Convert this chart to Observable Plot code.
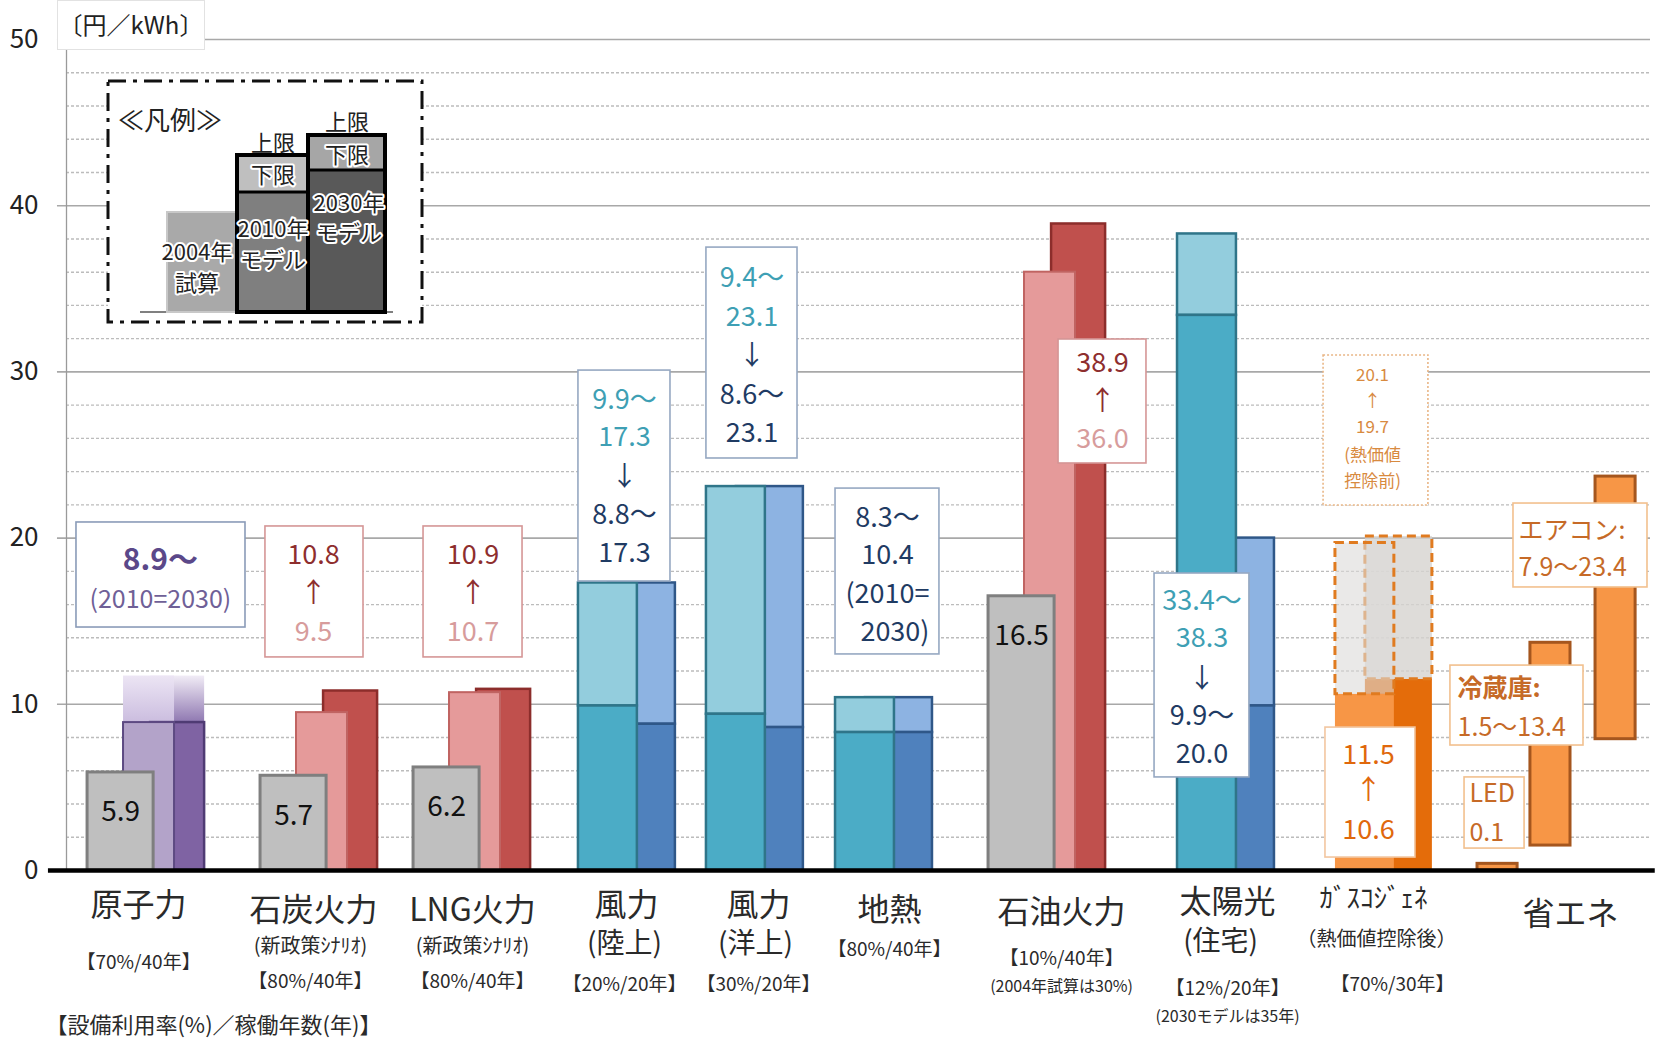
<!DOCTYPE html>
<html>
<head>
<meta charset="utf-8">
<script src="https://cdn.jsdelivr.net/npm/d3@7"></script>
<script src="https://cdn.jsdelivr.net/npm/@observablehq/plot@0.6"></script>
<style>
  body { margin: 0; background: #fff; }
  #wrap { position: relative; width: 1663px; height: 1038px; font-family: "Noto Sans CJK JP", "Noto Sans", sans-serif; overflow: hidden; }
  #unit { position: absolute; left: 57px; top: 0; width: 148px; height: 50px; box-sizing: border-box; white-space: nowrap;
          border: 1px solid #e2e2e2; background: #fff; font-size: 24px; line-height: 46px; text-align: center; color: #222; }
</style>
</head>
<body>
<div id="wrap">
  <svg width="0" height="0" style="position:absolute">
    <defs>
      <linearGradient id="fadeLight" x1="0" y1="0" x2="0" y2="1">
        <stop offset="0" stop-color="#ece5f4"/>
        <stop offset="1" stop-color="#cbbddf"/>
      </linearGradient>
      <linearGradient id="fadeDark" x1="0" y1="0" x2="0" y2="1">
        <stop offset="0" stop-color="#f1ecf6"/>
        <stop offset="1" stop-color="#8f78b1"/>
      </linearGradient>
    </defs>
  </svg>
</div>
<script>
// ---------- values (円/kWh) ----------
// thermal & nuclear: 2004 estimate, 2010 model, 2030 model
const fossilGroups = ["原子力", "石炭火力", "LNG火力", "石油火力"];
const cost2004 = [5.9, 5.7, 6.2, 16.5];
const cost2010 = [8.9, 9.5, 10.7, 36.0];
const cost2030 = [8.9, 10.8, 10.9, 38.9];

// renewables: lower / upper bound for the 2010 and 2030 models
const renewGroups = ["風力(陸上)", "風力(洋上)", "地熱", "太陽光(住宅)"];
const low2010 = [9.9, 9.4, 8.3, 33.4];
const high2010 = [17.3, 23.1, 10.4, 38.3];
const low2030 = [8.8, 8.6, 8.3, 9.9];
const high2030 = [17.3, 23.1, 10.4, 20.0];

// gas cogeneration: after / before heat-value deduction
const gasYears = ["2010", "2030"];
const gasAfterHeat = [10.6, 11.5];
const gasBeforeHeat = [19.7, 20.1];

// energy saving appliances: cost range
const saveItems = ["LED", "冷蔵庫", "エアコン"];
const saveLow = [0, 1.5, 7.9];
const saveHigh = [0.1, 13.4, 23.4];

const yTicks = [0, 10, 20, 30, 40, 50];

// category labels under the axis
const catNames = ["原子力", "石炭火力", "LNG火力", "風力", "風力", "地熱", "石油火力", "太陽光", "ｶﾞｽｺｼﾞｪﾈ", "省エネ"];
const catSubs  = ["", "(新政策ｼﾅﾘｵ)", "(新政策ｼﾅﾘｵ)", "(陸上)", "(洋上)", "", "", "(住宅)", "（熱価値控除後）", ""];
const catRates = ["【70%/40年】", "【80%/40年】", "【80%/40年】", "【20%/20年】", "【30%/20年】", "【80%/40年】", "【10%/40年】", "【12%/20年】", "【70%/30年】", ""];
const catNotes = ["", "", "", "", "", "", "(2004年試算は30%)", "(2030モデルは35年)", "", ""];
const rateCaption = "【設備利用率(%)／稼働年数(年)】";

// ---------- layout (x in chart units 0–100) ----------
const fossilAnchor = [1.33, 12.25, 21.91, 58.21];
const FOS = { g: [0, 4.17], a: [2.27, 5.49], b: [3.98, 7.39] };
const renewAnchor = [32.32, 40.40, 48.55, 70.14];
const REN = { a: [0, 3.72], b: [1.89, 6.12] };
const gasAnchor = 80.11;
const saveLeft = [89.08, 92.42, 96.53];
const SAVE_W = 2.53;
const OPEN_TOP = 2.8; // height of the faded "open-ended" cap on nuclear

const fmt = v => v.toFixed(1);

const teal = "#3e9fb4", navy = "#1f3b63";
const redDark = "#8e2e2e", redLight = "#d79c9c";
const purpleBold = "#5b4889", purpleReg = "#6f6097";
const orange = "#e0680c", orangeSoft = "#d88a3f", saveText = "#c66a27";

// ---------- rows ----------
const fossil = fossilGroups.map((name, i) => ({
  name, x0: fossilAnchor[i], v04: cost2004[i], v10: cost2010[i], v30: cost2030[i], nuc: i === 0
}));
const renew = renewGroups.map((name, i) => ({
  name, x0: renewAnchor[i], l10: low2010[i], h10: high2010[i], l30: low2030[i], h30: high2030[i]
}));
const gas = gasYears.map((year, i) => ({
  year, x1: gasAnchor + (i === 0 ? REN.a[0] : REN.b[0]), x2: gasAnchor + (i === 0 ? REN.a[1] : REN.b[1]),
  after: gasAfterHeat[i], before: gasBeforeHeat[i]
}));
const gas2010 = gas.filter(d => d.year === "2010");
const gas2030 = gas.filter(d => d.year === "2030");
const save = saveItems.map((name, i) => ({ name, x1: saveLeft[i], x2: saveLeft[i] + SAVE_W, lo: saveLow[i], hi: saveHigh[i] }));

// annotation boxes
const boxes = [
  { x1: 0.63, x2: 11.30, y1: 14.62, y2: 20.94, stroke: "#8a9bb8" },
  { x1: 12.56, x2: 18.75, y1: 12.82, y2: 20.70, stroke: "#d59696" },
  { x1: 22.54, x2: 28.79, y1: 12.82, y2: 20.70, stroke: "#d59696" },
  { x1: 32.32, x2: 38.13, y1: 17.39, y2: 30.08, stroke: "#96a8c2" },
  { x1: 40.40, x2: 46.15, y1: 24.79, y2: 37.48, stroke: "#96a8c2" },
  { x1: 48.55, x2: 55.11, y1: 13.00, y2: 22.98, stroke: "#96a8c2" },
  { x1: 62.63, x2: 68.18, y1: 24.49, y2: 31.95, stroke: "#d59696" },
  { x1: 68.69, x2: 74.68, y1: 5.60, y2: 17.87, stroke: "#96a8c2" },
  { x1: 79.48, x2: 85.16, y1: 0.78, y2: 8.60, stroke: "#f2c6a0" },
  { x1: 91.35, x2: 99.81, y1: 17.03, y2: 22.08, stroke: "#f2c08e" },
  { x1: 87.37, x2: 95.77, y1: 7.52, y2: 12.33, stroke: "#f2c08e" },
  { x1: 88.26, x2: 92.05, y1: 1.32, y2: 5.60, stroke: "#f2c08e" }
];
const dottedBox = [{ x1: 79.36, x2: 85.98, y1: 21.96, y2: 30.99 }];

const arrowBox = (x, ys, idx) => [
  { x, y: ys[0], text: fmt(cost2030[idx]), fill: redDark, size: 27 },
  { x, y: ys[1], text: "↑", fill: redDark, size: 27 },
  { x, y: ys[2], text: fmt(cost2010[idx]), fill: redLight, size: 27 }
];
const renewBox = (x, ys, idx) => [
  { x, y: ys[0], text: `${fmt(low2010[idx])}～`, fill: teal, size: 27 },
  { x, y: ys[1], text: fmt(high2010[idx]), fill: teal, size: 27 },
  { x, y: ys[2], text: "↓", fill: navy, size: 27 },
  { x, y: ys[3], text: `${fmt(low2030[idx])}～`, fill: navy, size: 27 },
  { x, y: ys[4], text: fmt(high2030[idx]), fill: navy, size: 27 }
];

const notes = [
  { x: 5.93, y: 16.25, text: "(2010=2030)", fill: purpleReg, size: 25 },
  ...arrowBox(15.6, [18.95, 16.67, 14.32], 1),
  ...arrowBox(25.66, [18.95, 16.67, 14.32], 2),
  ...arrowBox(65.40, [30.51, 28.22, 25.93], 3),
  ...renewBox(35.23, [28.28, 26.05, 23.65, 21.36, 19.07], 0),
  ...renewBox(43.28, [35.62, 33.27, 30.93, 28.58, 26.29], 1),
  ...renewBox(71.69, [16.19, 13.96, 11.49, 9.27, 6.98], 3),
  { x: 51.83, y: 21.18, text: `${fmt(low2010[2])}～`, fill: navy, size: 27 },
  { x: 51.83, y: 18.95, text: fmt(high2010[2]), fill: navy, size: 27 },
  { x: 51.83, y: 16.61, text: "(2010=", fill: navy, size: 27 },
  { x: 52.30, y: 14.32, text: "2030)", fill: navy, size: 27 },
  { x: 82.45, y: 29.78, text: fmt(gasBeforeHeat[1]), fill: orangeSoft, size: 17 },
  { x: 82.45, y: 28.22, text: "↑", fill: orangeSoft, size: 17 },
  { x: 82.45, y: 26.65, text: fmt(gasBeforeHeat[0]), fill: orangeSoft, size: 17 },
  { x: 82.45, y: 24.97, text: "(熱価値", fill: orangeSoft, size: 17 },
  { x: 82.45, y: 23.41, text: "控除前)", fill: orangeSoft, size: 17 },
  { x: 82.20, y: 6.92, text: fmt(gasAfterHeat[1]), fill: orange, size: 27 },
  { x: 82.20, y: 4.81, text: "↑", fill: orange, size: 27 },
  { x: 82.20, y: 2.41, text: fmt(gasAfterHeat[0]), fill: orange, size: 27 }
];
const notesBold = [
  { x: 5.93, y: 18.65, text: `${fmt(cost2010[0])}～`, fill: purpleBold, size: 30 }
];
const notesLeft = [
  { x: 91.67, y: 20.40, text: `${saveItems[2]}:`, fill: saveText, size: 25 },
  { x: 91.67, y: 18.23, text: `${fmt(saveLow[2])}～${fmt(saveHigh[2])}`, fill: saveText, size: 25 },
  { x: 87.82, y: 8.60, text: `${fmt(saveLow[1])}～${fmt(saveHigh[1])}`, fill: saveText, size: 25 },
  { x: 88.57, y: 4.63, text: saveItems[0], fill: saveText, size: 25 },
  { x: 88.57, y: 2.23, text: fmt(saveHigh[0]), fill: saveText, size: 25 }
];
const notesLeftBold = [
  { x: 87.82, y: 10.90, text: `${saveItems[1]}:`, fill: saveText, size: 25 }
];

// axis category labels (y below zero)
const labelPos = [
  { name: [4.55, -2.11], rate: [4.55, -5.54] },
  { name: [15.59, -2.41], sub: [15.4, -4.57, 20], rate: [15.4, -6.68] },
  { name: [25.63, -2.41], sub: [25.63, -4.57, 20], rate: [25.63, -6.68] },
  { name: [35.35, -2.11], sub: [35.23, -4.45, 28], rate: [35.23, -6.86] },
  { name: [43.69, -2.11], sub: [43.50, -4.45, 28], rate: [43.69, -6.86] },
  { name: [51.96, -2.41], rate: [51.96, -4.75] },
  { name: [62.82, -2.53], rate: [62.82, -5.29], note: [62.82, -6.98] },
  { name: [73.30, -1.93], sub: [72.86, -4.33, 28], rate: [73.30, -7.10], note: [73.30, -8.78] },
  { name: [82.51, -1.74], sub: [82.70, -4.15, 20], rate: [83.71, -6.86] },
  { name: [94.95, -2.65] }
];
const axisLabels = [];
catNames.forEach((n, i) => {
  const p = labelPos[i];
  axisLabels.push({ x: p.name[0], y: p.name[1], text: n, size: i === 8 ? 27 : 32 });
  if (p.sub) axisLabels.push({ x: p.sub[0], y: p.sub[1], text: catSubs[i], size: p.sub[2] });
  if (p.rate) axisLabels.push({ x: p.rate[0], y: p.rate[1], text: catRates[i], size: 19 });
  if (p.note) axisLabels.push({ x: p.note[0], y: p.note[1], text: catNotes[i], size: 16 });
});

const minorTicks = d3.range(2, 50, 2).filter(v => v % 10 !== 0);

const chart = Plot.plot({
  width: 1663,
  height: 1038,
  marginTop: 39,
  marginBottom: 168,
  marginLeft: 66,
  marginRight: 13,
  style: { fontFamily: "'Noto Sans CJK JP', 'Noto Sans', sans-serif", fontSize: "26px", color: "#222", background: "transparent" },
  x: { domain: [0, 100], axis: null },
  y: { domain: [0, 50], ticks: yTicks, tickSize: 0, tickPadding: 28, label: null, tickFormat: d => String(d) },
  color: { type: "identity" },
  marks: [
    // grid
    Plot.ruleY(minorTicks, { x1: 0, x2: 100, stroke: "#bcbcbc", strokeWidth: 1.4, strokeDasharray: "3,2" }),
    Plot.ruleY(yTicks.filter(v => v > 0), { x1: -0.57, x2: 100, stroke: "#a8a8a8", strokeWidth: 1.6 }),
    Plot.ruleX([0], { y1: 0, y2: 50, stroke: "#9a9a9a", strokeWidth: 1.3 }),

    // nuclear: faded open-ended cap above the lower bound
    Plot.rect(fossil.filter(d => d.nuc), { x1: d => d.x0 + FOS.b[0], x2: d => d.x0 + FOS.b[1], y1: "v30", y2: d => d.v30 + OPEN_TOP, fill: "url(#fadeDark)" }),
    Plot.rect(fossil.filter(d => d.nuc), { x1: d => d.x0 + FOS.a[0], x2: d => d.x0 + FOS.a[1], y1: "v10", y2: d => d.v10 + OPEN_TOP, fill: "url(#fadeLight)" }),

    // thermal & nuclear bars: 2030 behind, 2010 middle, 2004 in front
    Plot.rect(fossil, { x1: d => d.x0 + FOS.b[0], x2: d => d.x0 + FOS.b[1], y1: 0, y2: "v30",
      fill: d => d.nuc ? "#7f63a3" : "#c0504d", stroke: d => d.nuc ? "#4f3b74" : "#8c2d2b", strokeWidth: 2.5 }),
    Plot.rect(fossil, { x1: d => d.x0 + FOS.a[0], x2: d => d.x0 + FOS.a[1], y1: 0, y2: "v10",
      fill: d => d.nuc ? "#b3a3c9" : "#e59a9a", stroke: d => d.nuc ? "#5d4a82" : "#c06462", strokeWidth: 2 }),
    Plot.rect(fossil, { x1: d => d.x0 + FOS.g[0], x2: d => d.x0 + FOS.g[1], y1: 0, y2: "v04",
      fill: "#bfbfbf", stroke: "#7f7f7f", strokeWidth: 3 }),

    // renewables: 2030 behind, 2010 in front; light part = range between bounds
    Plot.rect(renew, { x1: d => d.x0 + REN.b[0], x2: d => d.x0 + REN.b[1], y1: "l30", y2: "h30", fill: "#8db3e2", stroke: "#2f5788", strokeWidth: 2.5 }),
    Plot.rect(renew, { x1: d => d.x0 + REN.b[0], x2: d => d.x0 + REN.b[1], y1: 0, y2: "l30", fill: "#4f81bd", stroke: "#2f5788", strokeWidth: 2.5 }),
    Plot.rect(renew, { x1: d => d.x0 + REN.a[0], x2: d => d.x0 + REN.a[1], y1: "l10", y2: "h10", fill: "#93cddd", stroke: "#2f7589", strokeWidth: 2.5 }),
    Plot.rect(renew, { x1: d => d.x0 + REN.a[0], x2: d => d.x0 + REN.a[1], y1: 0, y2: "l10", fill: "#4bacc6", stroke: "#2f7589", strokeWidth: 2.5 }),

    // gas cogeneration: solid = after heat deduction, dashed = before
    Plot.rect(gas2030, { x1: "x1", x2: "x2", y1: 0, y2: "after", fill: "#e46c0a" }),
    Plot.rect(gas2030, { x1: "x1", x2: "x2", y1: "after", y2: "before", fill: "#d6d3d0", fillOpacity: 0.8, stroke: "#e07b20", strokeWidth: 3, strokeDasharray: "9,5" }),
    Plot.rect(gas2010, { x1: "x1", x2: "x2", y1: 0, y2: "after", fill: "#f79646" }),
    Plot.rect(gas2010, { x1: "x1", x2: "x2", y1: "after", y2: "before", fill: "#dcdad8", fillOpacity: 0.6, stroke: "#e07b20", strokeWidth: 3, strokeDasharray: "9,5" }),

    // energy saving ranges
    Plot.rect(save, { x1: "x1", x2: "x2", y1: "lo", y2: "hi", fill: "#f79646", stroke: "#a5561e", strokeWidth: 3, insetTop: -5 }),

    // zero line
    Plot.ruleY([0], { x1: -1.14, x2: 100.3, stroke: "#000", strokeWidth: 4.5 }),

    // annotation boxes
    Plot.rect(boxes, { x1: "x1", x2: "x2", y1: "y1", y2: "y2", fill: "#fff", stroke: "stroke", strokeWidth: 1.6 }),
    Plot.rect(dottedBox, { x1: "x1", x2: "x2", y1: "y1", y2: "y2", fill: "#fff", stroke: "#e9b686", strokeWidth: 1.6, strokeDasharray: "2,2" }),
    Plot.text(notes, { x: "x", y: "y", text: "text", fill: "fill", fontSize: "size" }),
    Plot.text(notesBold, { x: "x", y: "y", text: "text", fill: "fill", fontSize: "size", fontWeight: "bold" }),
    Plot.text(notesLeft, { x: "x", y: "y", text: "text", fill: "fill", fontSize: "size", textAnchor: "start" }),
    Plot.text(notesLeftBold, { x: "x", y: "y", text: "text", fill: "fill", fontSize: "size", textAnchor: "start", fontWeight: "bold" }),

    // 2004 values printed inside the grey bars
    Plot.text(fossil, { x: d => d.x0 + (FOS.g[0] + FOS.g[1]) / 2, y: d => d.v04 - 2.4, text: d => fmt(d.v04), fill: "#111", fontSize: 28 }),

    // category labels
    Plot.text(axisLabels, { x: "x", y: "y", text: "text", fontSize: "size", fill: "#2a2a2a" }),
    Plot.text([rateCaption], { x: -1.33, y: -9.33, text: d => d, fontSize: 22, fill: "#2a2a2a", textAnchor: "start" })
  ]
});

const wrap = document.getElementById("wrap");
chart.style.position = "absolute";
chart.style.left = "0";
chart.style.top = "0";
wrap.appendChild(chart);

// unit label
const unit = document.createElement("div");
unit.id = "unit";
unit.textContent = "〔円／kWh〕";
wrap.appendChild(unit);

// legend
const lg = d3.select(wrap).append("svg")
  .attr("width", 1663).attr("height", 1038)
  .style("position", "absolute").style("left", 0).style("top", 0).style("pointer-events", "none")
  .style("font-family", "'Noto Sans CJK JP', 'Noto Sans', sans-serif");

lg.append("rect").attr("x", 108).attr("y", 81).attr("width", 314).attr("height", 241)
  .attr("fill", "#fff").attr("stroke", "#111").attr("stroke-width", 3).attr("stroke-dasharray", "18,7,4,7");
lg.append("text").attr("x", 118).attr("y", 118).attr("dominant-baseline", "central")
  .attr("font-size", 26).attr("fill", "#222").text("≪凡例≫");
lg.append("line").attr("x1", 140).attr("x2", 393).attr("y1", 312).attr("y2", 312).attr("stroke", "#808080").attr("stroke-width", 2);
lg.append("rect").attr("x", 167).attr("y", 212).attr("width", 70).attr("height", 100)
  .attr("fill", "#a9a9a9").attr("stroke", "#c8c8c8").attr("stroke-width", 2);
const legendBars = [
  { x: 237, w: 71, top: 155, mid: 192, up: "#bfbfbf", lo: "#7f7f7f" },
  { x: 308, w: 77, top: 135, mid: 170, up: "#a6a6a6", lo: "#595959" }
];
legendBars.forEach(b => {
  lg.append("rect").attr("x", b.x).attr("y", b.top).attr("width", b.w).attr("height", b.mid - b.top).attr("fill", b.up);
  lg.append("rect").attr("x", b.x).attr("y", b.mid).attr("width", b.w).attr("height", 312 - b.mid).attr("fill", b.lo);
  lg.append("line").attr("x1", b.x).attr("x2", b.x + b.w).attr("y1", b.mid).attr("y2", b.mid).attr("stroke", "#000").attr("stroke-width", 3);
  lg.append("rect").attr("x", b.x).attr("y", b.top).attr("width", b.w).attr("height", 312 - b.top)
    .attr("fill", "none").attr("stroke", "#000").attr("stroke-width", 4);
});
const legendText = [
  ["上限", 273, 141, false], ["下限", 273, 173, true], ["2010年", 273, 227, true], ["モデル", 273, 258, true],
  ["上限", 347, 120, false], ["下限", 347, 153, true], ["2030年", 349, 201, true], ["モデル", 349, 231, true],
  ["2004年", 197, 250, true], ["試算", 197, 281, true]
];
legendText.forEach(([t, x, y, halo]) => {
  const el = lg.append("text").attr("x", x).attr("y", y).attr("text-anchor", "middle").attr("dominant-baseline", "central")
    .attr("font-size", 22).attr("fill", "#222").text(t);
  if (halo) el.attr("stroke", "#fff").attr("stroke-width", 4).attr("paint-order", "stroke").attr("stroke-linejoin", "round");
});
</script>
</body>
</html>
